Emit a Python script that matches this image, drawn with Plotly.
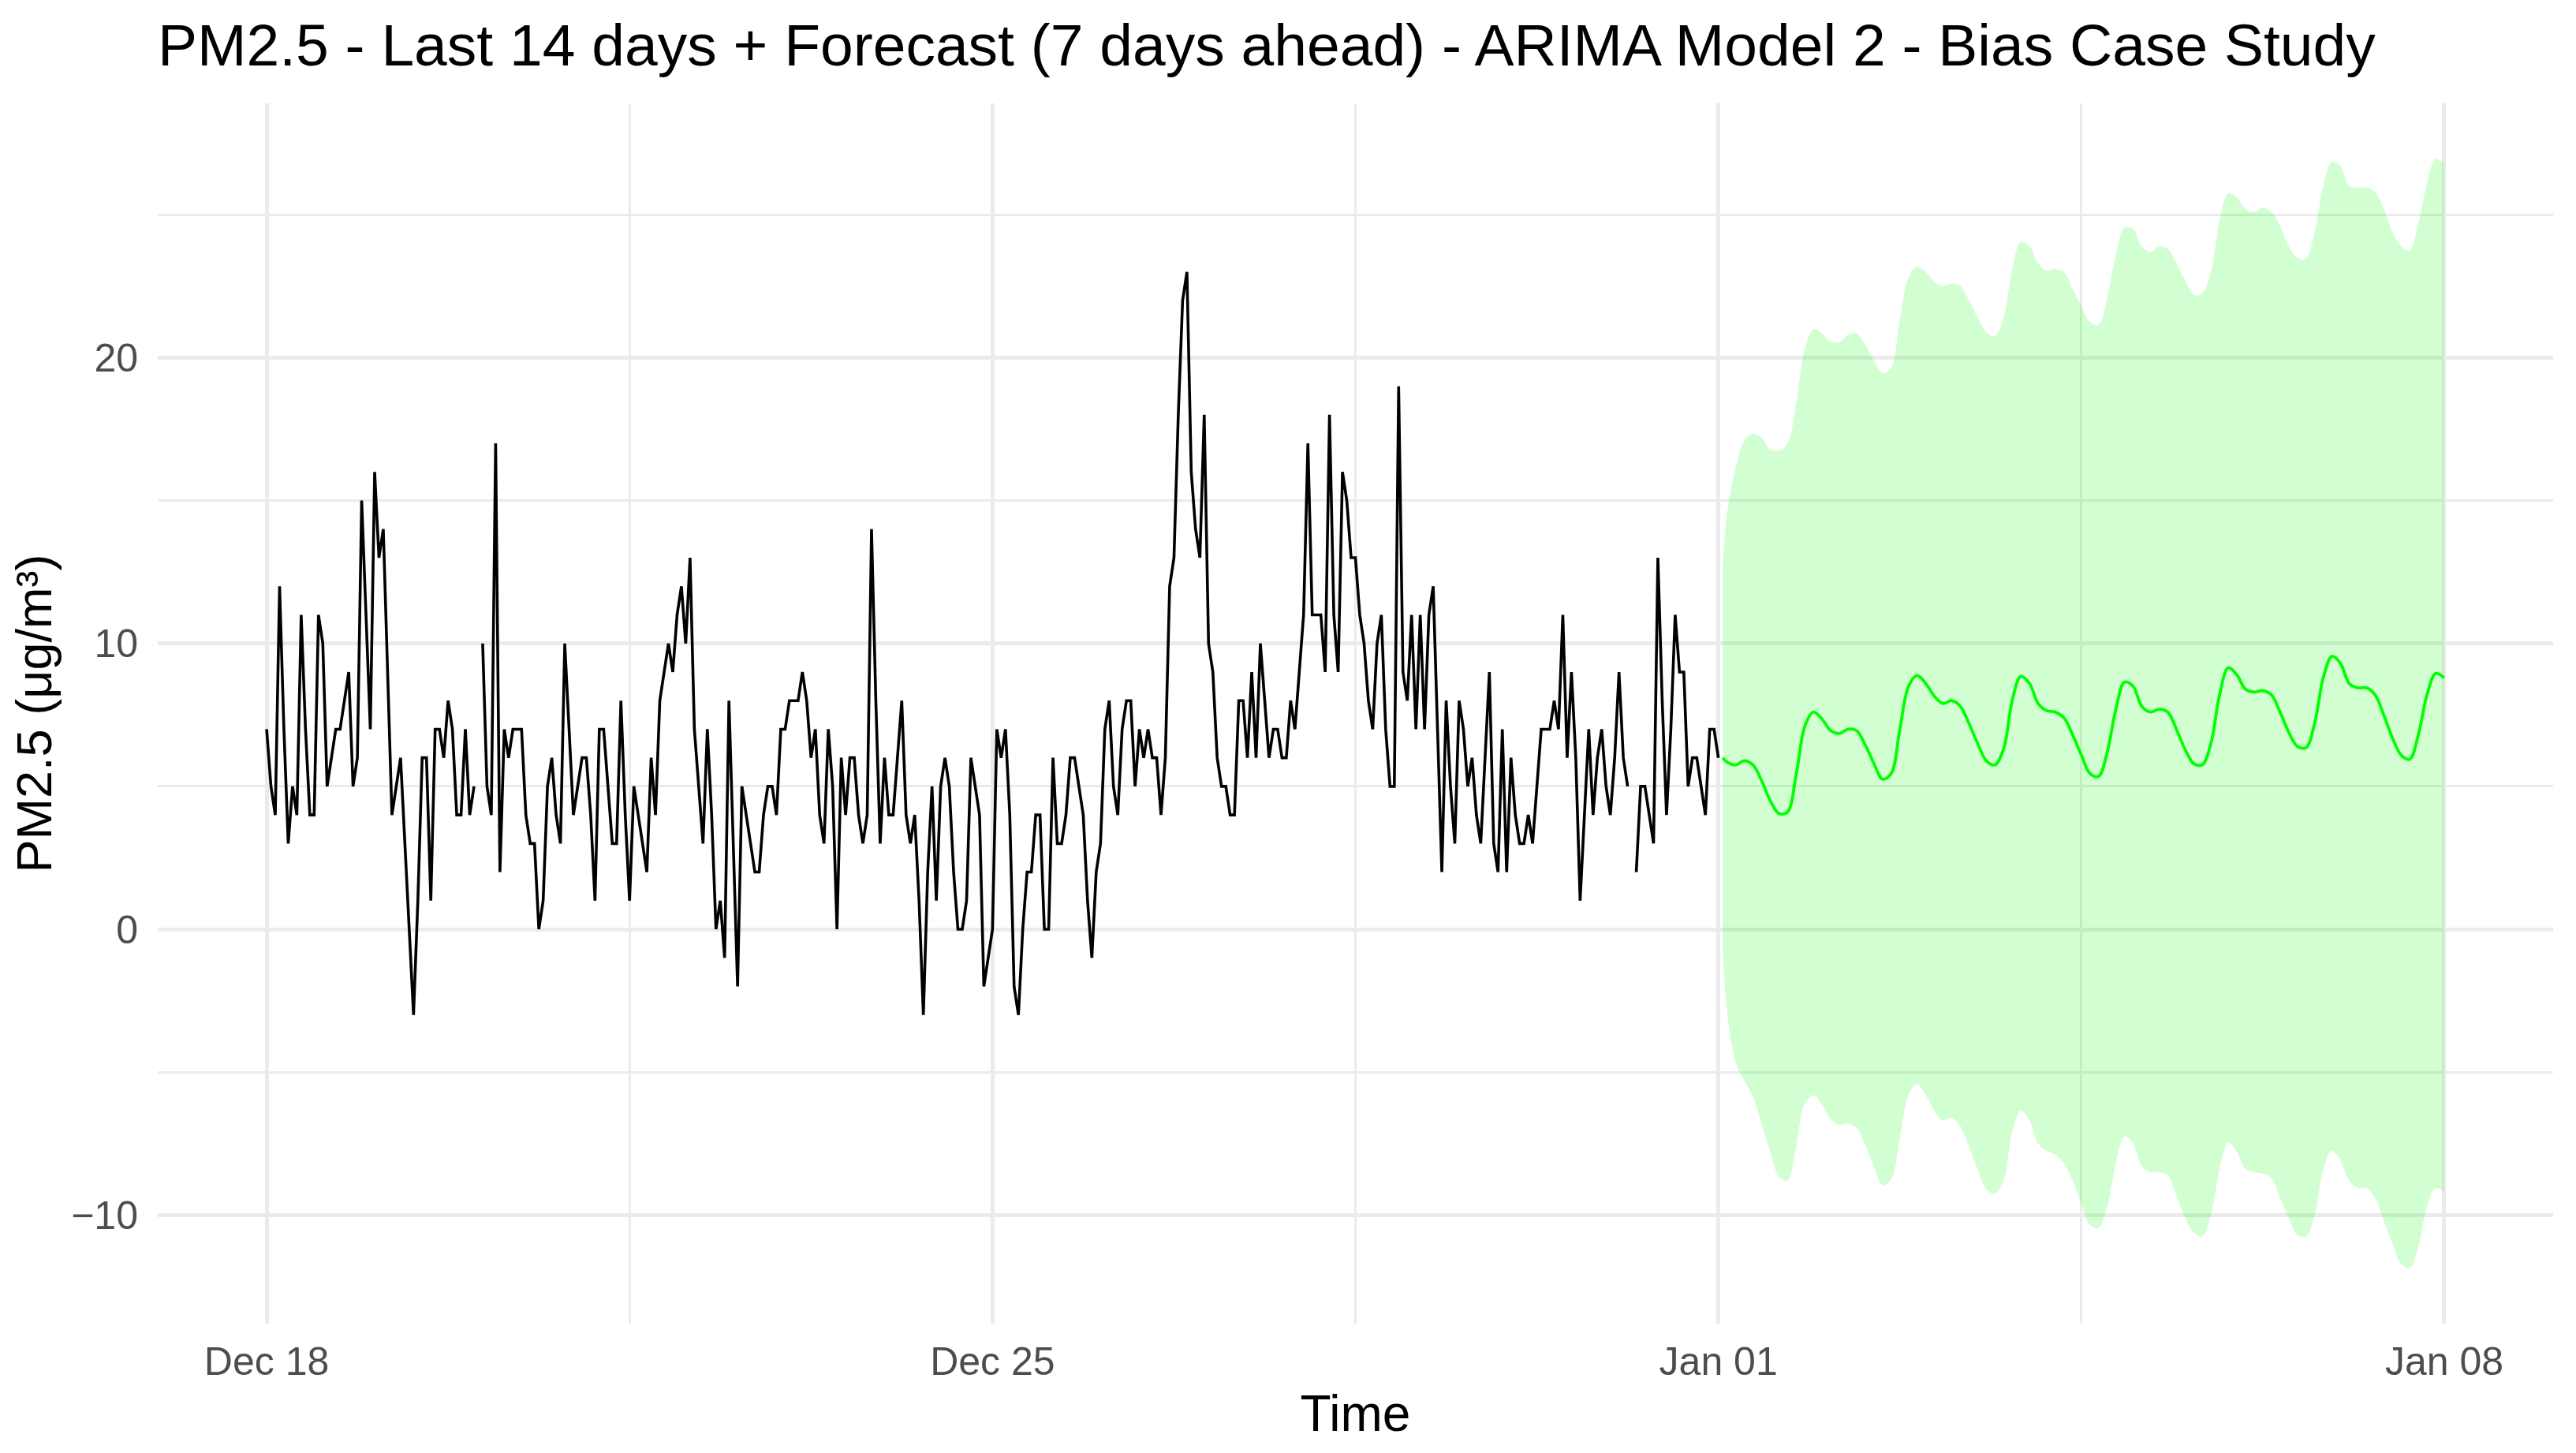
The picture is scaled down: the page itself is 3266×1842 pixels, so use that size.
import pandas as pd
import plotly.graph_objects as go

# ---------------- data ----------------
obs_start = "2023-12-18 00:00"          # hourly observations, Dec 18 00:00 .. Jan 01 00:00
pm25_observed = [
    7, 5, 4, 12, 7, 3, 5, 4, 11, 7, 4, 4, 11, 10, 5, 6, 7, 7, 8, 9, 5, 6, 15, 11,
    7, 16, 13, 14, 9, 4, 5, 6, 3, 0, -3, 1, 6, 6, 1, 7, 7, 6, 8, 7, 4, 4, 7, 4,
    5, None, 10, 5, 4, 17, 2, 7, 6, 7, 7, 7, 4, 3, 3, 0, 1, 5, 6, 4, 3, 10, 7, 4,
    5, 6, 6, 4, 1, 7, 7, 5, 3, 3, 8, 4, 1, 5, 4, 3, 2, 6, 4, 8, 9, 10, 9, 11,
    12, 10, 13, 7, 5, 3, 7, 4, 0, 1, -1, 8, 3, -2, 5, 4, 3, 2, 2, 4, 5, 5, 4, 7,
    7, 8, 8, 8, 9, 8, 6, 7, 4, 3, 7, 5, 0, 6, 4, 6, 6, 4, 3, 4, 14, 8, 3, 6,
    4, 4, 6, 8, 4, 3, 4, 1, -3, 2, 5, 1, 5, 6, 5, 2, 0, 0, 1, 6, 5, 4, -2, -1,
    0, 7, 6, 7, 4, -2, -3, 0, 2, 2, 4, 4, 0, 0, 6, 3, 3, 4, 6, 6, 5, 4, 1, -1,
    2, 3, 7, 8, 5, 4, 7, 8, 8, 5, 7, 6, 7, 6, 6, 4, 6, 12, 13, 18, 22, 23, 16, 14,
    13, 18, 10, 9, 6, 5, 5, 4, 4, 8, 8, 6, 9, 6, 10, 8, 6, 7, 7, 6, 6, 8, 7, 9,
    11, 17, 11, 11, 11, 9, 18, 11, 9, 16, 15, 13, 13, 11, 10, 8, 7, 10, 11, 7, 5, 5, 19, 9,
    8, 11, 7, 11, 7, 11, 12, 7, 2, 8, 5, 3, 8, 7, 5, 6, 4, 3, 6, 9, 3, 2, 7, 2,
    6, 4, 3, 3, 4, 3, 5, 7, 7, 7, 8, 7, 11, 6, 9, 6, 1, 4, 7, 4, 6, 7, 5, 4,
    6, 9, 6, 5, None, 2, 5, 5, 4, 3, 13, 8, 4, 7, 11, 9, 9, 5, 6, 6, 5, 4, 7, 7,
    6,
]

forecast_origin = "2024-01-01 00:00"
fc_hours = [1] + list(range(2, 169, 2))  # forecast horizon (hours ahead)
fc_mean = [
    6.0, 5.85, 5.75, 5.9, 5.75, 5.2, 4.5, 4.05, 4.1, 5.4, 7.1, 7.6,
    7.35, 6.95, 6.85, 7.0, 6.95, 6.45, 5.8, 5.25, 5.45, 7.0, 8.5, 8.88,
    8.6, 8.15, 7.9, 8.0, 7.8, 7.2, 6.5, 5.9, 5.75, 6.3, 8.0, 8.85,
    8.6, 7.9, 7.65, 7.6, 7.4, 6.8, 6.1, 5.45, 5.35, 6.2, 7.7, 8.65,
    8.5, 7.8, 7.6, 7.7, 7.6, 7.0, 6.3, 5.8, 5.75, 6.5, 8.2, 9.15,
    8.9, 8.4, 8.3, 8.35, 8.2, 7.6, 6.9, 6.4, 6.35, 7.2, 8.8, 9.55,
    9.3, 8.6, 8.45, 8.45, 8.2, 7.5, 6.7, 6.1, 5.95, 6.8, 8.2, 8.95,
    8.8,
]
fc_upper = [
    12.6, 14.55, 16.15, 17.1, 17.35, 17.2, 16.8, 16.75, 17.0, 18.4, 20.3, 21.0,
    20.85, 20.55, 20.55, 20.8, 20.85, 20.45, 19.9, 19.45, 19.65, 21.3, 22.8, 23.18,
    23.0, 22.65, 22.5, 22.6, 22.5, 22.0, 21.4, 20.9, 20.75, 21.4, 23.1, 24.05,
    23.9, 23.3, 23.05, 23.1, 23.0, 22.4, 21.8, 21.25, 21.15, 22.1, 23.6, 24.55,
    24.5, 23.9, 23.7, 23.9, 23.8, 23.3, 22.7, 22.2, 22.25, 23.0, 24.8, 25.75,
    25.6, 25.2, 25.1, 25.25, 25.1, 24.6, 23.9, 23.5, 23.45, 24.4, 26.0, 26.85,
    26.7, 26.0, 25.95, 25.95, 25.8, 25.2, 24.4, 23.9, 23.75, 24.7, 26.1, 26.95,
    26.8,
]
fc_lower = [
    -0.6, -2.85, -4.65, -5.3, -5.85, -6.8, -7.8, -8.65, -8.8, -7.6, -6.1, -5.8,
    -6.15, -6.65, -6.85, -6.8, -6.95, -7.55, -8.3, -8.95, -8.75, -7.3, -5.8, -5.42,
    -5.8, -6.35, -6.7, -6.6, -6.9, -7.6, -8.4, -9.1, -9.25, -8.8, -7.1, -6.35,
    -6.7, -7.5, -7.75, -7.9, -8.2, -8.8, -9.6, -10.35, -10.45, -9.7, -8.2, -7.25,
    -7.5, -8.3, -8.5, -8.5, -8.6, -9.3, -10.1, -10.6, -10.75, -10.0, -8.4, -7.45,
    -7.8, -8.4, -8.5, -8.55, -8.7, -9.4, -10.1, -10.7, -10.75, -10.0, -8.4, -7.75,
    -8.1, -8.8, -9.05, -9.05, -9.4, -10.2, -11.0, -11.7, -11.85, -11.1, -9.7, -9.05,
    -9.2,
]

x_tick_dates = ["2023-12-18", "2023-12-25", "2024-01-01", "2024-01-08"]
x_tick_labels = ["Dec 18", "Dec 25", "Jan 01", "Jan 08"]
x_minor_dates = ["2023-12-21 12:00", "2023-12-28 12:00", "2024-01-04 12:00"]
y_tick_vals = [-10, 0, 10, 20]
y_minor_vals = [-5, 5, 15, 25]

title_text = "PM2.5 - Last 14 days + Forecast (7 days ahead) - ARIMA Model 2 - Bias Case Study"

# ---------------- build ----------------
obs_time = pd.date_range(obs_start, periods=len(pm25_observed), freq="h")
fc_time = pd.Timestamp(forecast_origin) + pd.to_timedelta(fc_hours, unit="h")

FONT = "Liberation Sans, Arial, Helvetica, sans-serif"
GRID = "#EBEBEB"

fig = go.Figure()
fig.add_trace(go.Scatter(
    x=fc_time, y=fc_lower, mode="lines", line=dict(width=0, shape="spline", color="rgba(0,255,0,0)"),
    showlegend=False, hoverinfo="skip"))
fig.add_trace(go.Scatter(
    x=fc_time, y=fc_upper, mode="lines", line=dict(width=0, shape="spline", color="rgba(0,255,0,0)"),
    fill="tonexty", fillcolor="rgba(0,255,0,0.18)", showlegend=False, hoverinfo="skip"))
fig.add_trace(go.Scatter(
    x=obs_time, y=pm25_observed, mode="lines", line=dict(color="black", width=3.6),
    connectgaps=False, showlegend=False))
fig.add_trace(go.Scatter(
    x=fc_time, y=fc_mean, mode="lines", line=dict(color="#00FF00", width=3.8, shape="spline"),
    showlegend=False))

fig.update_layout(
    width=3266, height=1842,
    paper_bgcolor="white", plot_bgcolor="white",
    margin=dict(l=192, r=37, t=123, b=172),
    font=dict(family=FONT, color="black"),
    title=dict(text=title_text, x=0, xref="paper", xanchor="left",
               y=1 - 49 / 1842, yref="container", yanchor="middle",
               font=dict(size=75, color="black", family=FONT)),
    showlegend=False,
)
fig.update_xaxes(
    type="date",
    range=["2023-12-16 22:48", "2024-01-09 01:12"],
    tickmode="array", tickvals=x_tick_dates, ticktext=x_tick_labels,
    tickfont=dict(size=50, color="#4D4D4D", family=FONT),
    ticks="outside", ticklen=4, tickcolor="rgba(0,0,0,0)",
    showgrid=True, gridcolor=GRID, gridwidth=4.5,
    minor=dict(tickmode="array", tickvals=x_minor_dates, showgrid=True, gridcolor=GRID, gridwidth=3, ticks=""),
    zeroline=False, showline=False,
    title=dict(text="Time", font=dict(size=64, color="black", family=FONT), standoff=16),
)
fig.update_yaxes(
    range=[-13.8, 28.9],
    tickmode="array", tickvals=y_tick_vals,
    tickfont=dict(size=50, color="#4D4D4D", family=FONT),
    ticks="outside", ticklen=14, tickcolor="rgba(0,0,0,0)",
    showgrid=True, gridcolor=GRID, gridwidth=4.5,
    minor=dict(tickmode="array", tickvals=y_minor_vals, showgrid=True, gridcolor=GRID, gridwidth=3, ticks=""),
    zeroline=False, showline=False,
    title=dict(text="PM2.5 (μg/m³)", font=dict(size=63, color="black", family=FONT), standoff=22),
)

fig.write_html("out.html", config={"displayModeBar": False})
